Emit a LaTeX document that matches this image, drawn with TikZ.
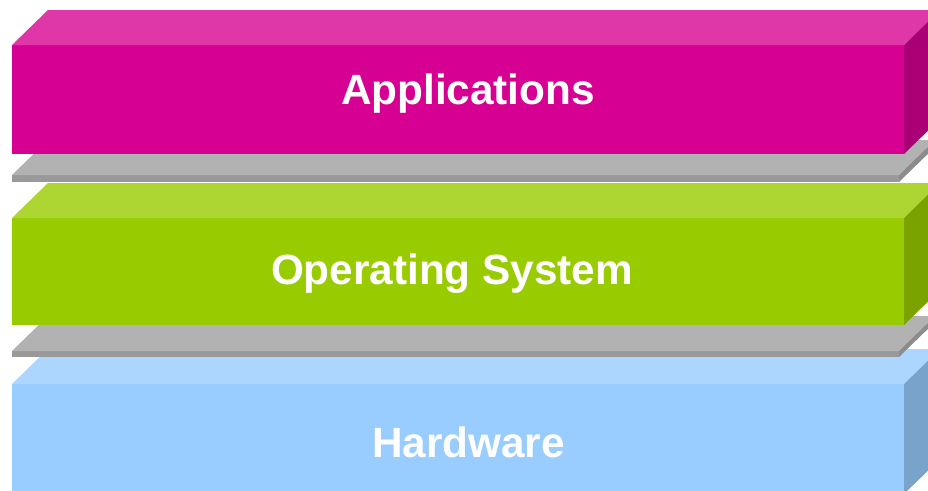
\documentclass[tikz,border=0pt]{standalone}
\usepackage{fontspec}
\setmainfont{Liberation Sans}
\definecolor{magF}{HTML}{D60093}
\definecolor{magT}{HTML}{E037A8}
\definecolor{magS}{HTML}{AB0075}
\definecolor{grnF}{HTML}{99CC00}
\definecolor{grnT}{HTML}{ADD633}
\definecolor{grnS}{HTML}{7AA300}
\definecolor{bluF}{HTML}{99CCFF}
\definecolor{bluT}{HTML}{ADD6FF}
\definecolor{bluS}{HTML}{7AA3CC}
\definecolor{gryF}{HTML}{999999}
\definecolor{gryT}{HTML}{B2B2B2}
\definecolor{gryS}{HTML}{8C8C8C}
\newcommand{\drawblock}[7]{%
  \fill[#1] (#4,#5) rectangle (#6,#7);
  \fill[#2] (#4,#5) -- (#6,#5) -- ++(36,-35) -- ($(#4,#5)+(36,-35)$) -- cycle;
  \fill[#3] (#6,#5) -- ++(36,-35) -- ($(#6,#7)+(36,-35)$) -- (#6,#7) -- cycle;
}
\usetikzlibrary{calc}
\tikzset{label text/.style={text=white, font=\fontsize{42.3}{50}\selectfont\bfseries, anchor=base, inner sep=0pt}}
\begin{document}
\begin{tikzpicture}[x=1pt,y=-1pt]
\useasboundingbox (0,0) rectangle (928,490);
\begin{scope}
\clip (0,0) rectangle (928,490);
\drawblock{bluF}{bluT}{bluS}{12}{384}{904}{494}
\drawblock{gryF}{gryT}{gryS}{12}{351}{899}{357}
\drawblock{grnF}{grnT}{grnS}{12}{218}{904}{325}
\drawblock{gryF}{gryT}{gryS}{12}{175}{899}{182}
\drawblock{magF}{magT}{magS}{12}{45}{904}{154}
\end{scope}
\node[label text] (apps) at (468,104) {Applications};
\node[label text] (os) at (452,284) {Operating System};
\node[label text] (hw) at (468.5,457) {Hardware};
\end{tikzpicture}
\end{document}
